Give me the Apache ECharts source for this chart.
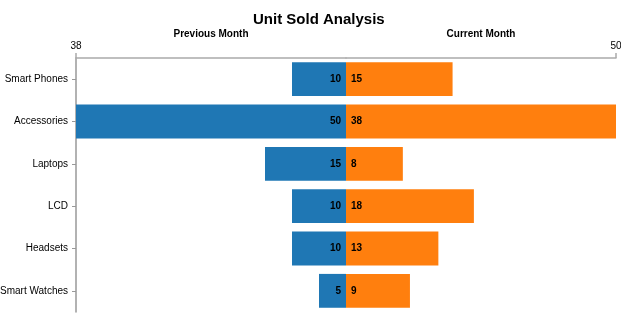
<!DOCTYPE html>
<html><head><meta charset="utf-8">
<script src="https://cdn.jsdelivr.net/npm/echarts@6/dist/echarts.min.js"></script>
<style>html,body{margin:0;padding:0;background:#fff}#c{width:621px;height:325px}</style>
</head><body><div id="c"></div>
<script>
var categories = ['Smart Phones','Accessories','Laptops','LCD','Headsets','Smart Watches'];
var previousMonth = [10, 50, 15, 10, 10, 5];
var currentMonth = [15, 38, 8, 18, 13, 9];
var topTickLabels = ['38', '50'];
var leftMax = 50, rightMax = 38;

var chart = echarts.init(document.getElementById('c'));
var font = 'Liberation Sans, Arial, sans-serif';
chart.setOption({
  animation: false,
  title: { text: 'Unit Sold Analysis', left: 248, top: 7,
    textStyle: { fontFamily: font, fontSize: 15, fontWeight: 'bold', color: '#000' } },
  grid: [
    { left: 76, width: 270, top: 58, height: 254, containLabel: false, outerBoundsMode: 'none' },
    { left: 346, width: 270, top: 58, height: 254, containLabel: false, outerBoundsMode: 'none' }
  ],
  xAxis: [
    { gridIndex: 0, type: 'value', position: 'top', inverse: true, min: 0, max: leftMax, interval: leftMax,
      name: 'Previous Month', nameLocation: 'middle', nameGap: 19, nameMoveOverlap: false,
      nameTextStyle: { fontFamily: font, fontSize: 10, fontWeight: 'bold', color: '#000' },
      axisLine: { show: true, onZero: false, lineStyle: { color: '#aaa', width: 1.5 } },
      axisTick: { show: true, customValues: [leftMax], length: 5, lineStyle: { color: '#aaa', width: 1.5 } },
      splitLine: { show: false },
      axisLabel: { fontFamily: font, fontSize: 10, color: '#000', margin: 7,
        formatter: function (v) { return v === leftMax ? topTickLabels[0] : ''; } } },
    { gridIndex: 1, type: 'value', position: 'top', min: 0, max: rightMax, interval: rightMax,
      name: 'Current Month', nameLocation: 'middle', nameGap: 19, nameMoveOverlap: false,
      nameTextStyle: { fontFamily: font, fontSize: 10, fontWeight: 'bold', color: '#000' },
      axisLine: { show: true, onZero: false, lineStyle: { color: '#aaa', width: 1.5 } },
      axisTick: { show: true, customValues: [rightMax], length: 5, lineStyle: { color: '#aaa', width: 1.5 } },
      splitLine: { show: false },
      axisLabel: { fontFamily: font, fontSize: 10, color: '#000', margin: 7,
        formatter: function (v) { return v === rightMax ? topTickLabels[1] : ''; } } }
  ],
  yAxis: [
    { gridIndex: 0, type: 'category', data: categories, inverse: true, position: 'left',
      axisLine: { show: true, onZero: false, lineStyle: { color: '#999', width: 1.5 } },
      axisTick: { show: true, alignWithLabel: true, length: 4, lineStyle: { color: '#999' } },
      axisLabel: { fontFamily: font, fontSize: 10, color: '#000', margin: 8 } },
    { gridIndex: 1, type: 'category', data: categories, inverse: true,
      axisLine: { show: false }, axisTick: { show: false }, axisLabel: { show: false } }
  ],
  series: [
    { type: 'bar', name: 'Previous Month', xAxisIndex: 0, yAxisIndex: 0, data: previousMonth,
      barCategoryGap: '20%', itemStyle: { color: '#1f77b4' },
      label: { show: true, position: 'insideRight', distance: 5, fontFamily: font, fontSize: 10,
        fontWeight: 'bold', color: '#000' } },
    { type: 'bar', name: 'Current Month', xAxisIndex: 1, yAxisIndex: 1, data: currentMonth,
      barCategoryGap: '20%', itemStyle: { color: '#ff7f0e' },
      label: { show: true, position: 'insideLeft', distance: 5, fontFamily: font, fontSize: 10,
        fontWeight: 'bold', color: '#000' } }
  ]
});
</script></body></html>
